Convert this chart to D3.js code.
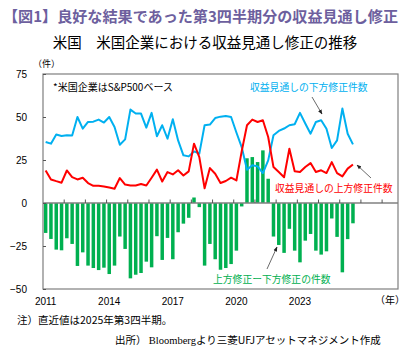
<!DOCTYPE html>
<html>
<head>
<meta charset="utf-8">
<script src="https://cdn.jsdelivr.net/npm/d3@7"></script>
<style>
    body { margin: 0; background: #fff; }
    svg { display: block; }
</style>
</head>
<body>
<div id="chart"></div>
<script>
// quarterly data, 2011Q1 .. 2025Q3
const startYear = 2011;
const axisQuarters = 67; // axis runs on to 2027Q3

const downRevisions = [
    35.5, 34.5, 39.8, 39, 39.4, 39.2, 50, 43.2, 47.1, 47.3,
    48.5, 46.8, 50, 44.2, 33.9, 37, 54.3, 52, 52, 43.8,
    52.4, 38.8, 45.2, 37.4, 48.7, 36.4, 27.7, 27.1, 30, 28.7,
    45.2, 45.6, 49.4, 50.2, 50.6, 50, 41, 32.5, 19.3, 21.9,
    21.3, 17.4, 24.8, 39.4, 41.9, 43.3, 45.2, 45.8, 52.4, 46.2,
    40.3, 47.1, 48.1, 43.2, 32, 36.4, 54.9, 40.3, 34.1
];

const upRevisions = [
    18.9, 13.7, 12.7, 11.8, 18.9, 15, 13.7, 14.7, 11.6, 10,
    10, 9.6, 9, 8.3, 14.5, 10.7, 10.2, 10.2, 11, 10.2,
    14.7, 19.4, 12.5, 18, 16.6, 19, 16, 18.4, 34.5, 26.7,
    8.6, 20.3, 17, 11.6, 12.8, 14.7, 13.1, 30, 45.2, 48.5,
    47.1, 48.1, 38.4, 20.9, 18, 15, 31.6, 18.5, 18, 20.9,
    23.2, 18, 19, 17.4, 23.8, 17.4, 15.5, 20, 22.4
];

const netRevisions = [
    -17.4, -20.9, -27.1, -27.5, -20.5, -23.8, -36.6, -28.7, -36.4, -37.8,
    -39, -37.6, -41.3, -36.4, -19.5, -26.7, -43.8, -41.7, -40.7, -34.1,
    -37.4, -19.3, -33.1, -20.3, -32.7, -17, -12, -8.6, 3.2, -2.4,
    -36.4, -23.8, -32.7, -38.8, -37.8, -35.5, -27.7, -2, 26, 26.7,
    23.8, 30.6, 14.1, -19.5, -24.4, -29, -15, -27.7, -34.5, -21.9,
    -18, -27.7, -30, -28.1, -9, -19.7, -40.3, -21, -11.8
];

const yTicks = [-50, -25, 0, 25, 50, 75];
const yearLabels = [2011, 2014, 2017, 2020, 2023];

const width = 408,
    height = 350,
    margin = {top: 74, right: 10, bottom: 61, left: 43};

const jp = '"Noto Sans CJK JP", "Noto Sans", sans-serif';

let quarters = [];
for (let i = 0; i < axisQuarters; i++) {
    quarters.push(`${startYear + Math.floor(i / 4)}Q${i % 4 + 1}`);
}

let svg = d3.select('#chart').append('svg')
    .attr('width', width)
    .attr('height', height);

let x = d3.scaleBand()
    .domain(quarters)
    .range([margin.left, width - margin.right])
    .paddingInner(0.34)
    .paddingOuter(0.17);

let y = d3.scaleLinear()
    .domain([-50, 75])
    .range([height - margin.bottom, margin.top]);

let cx = (i) => x(quarters[i]) + x.bandwidth() / 2;
let step = x.step();

// titles
svg.append('text')
    .attr('x', 3)
    .attr('y', 22)
    .attr('font-family', jp)
    .attr('font-size', 15)
    .attr('font-weight', 'bold')
    .attr('fill', '#6d5f9e')
    .attr('textLength', 395)
    .attr('lengthAdjust', 'spacingAndGlyphs')
    .text('【図1】良好な結果であった第3四半期分の収益見通し修正');

svg.append('text')
    .attr('x', 205)
    .attr('y', 48)
    .attr('text-anchor', 'middle')
    .attr('font-family', jp)
    .attr('font-size', 14.5)
    .attr('fill', '#000')
    .text('米国　米国企業における収益見通し修正の推移');

// bars
svg.append('g')
    .selectAll('rect')
    .data(netRevisions)
    .enter()
    .append('rect')
    .attr('x', (d, i) => x(quarters[i]))
    .attr('width', x.bandwidth())
    .attr('y', (d) => y(Math.max(0, d)))
    .attr('height', (d) => Math.abs(y(d) - y(0)))
    .attr('fill', '#00b050');

// zero line and year ticks
svg.append('line')
    .attr('x1', margin.left)
    .attr('x2', width - margin.right)
    .attr('y1', y(0))
    .attr('y2', y(0))
    .attr('stroke', '#808080')
    .attr('stroke-width', 1.5);

svg.append('g')
    .selectAll('line')
    .data(d3.range(4, axisQuarters, 4))
    .enter()
    .append('line')
    .attr('x1', (q) => x(quarters[q]) - step * x.paddingInner() / 2)
    .attr('x2', (q) => x(quarters[q]) - step * x.paddingInner() / 2)
    .attr('y1', y(0))
    .attr('y2', y(0) - 3.5)
    .attr('stroke', '#555')
    .attr('stroke-width', 1);

// lines
let line = d3.line()
    .x((d, i) => cx(i))
    .y((d) => y(d));

svg.append('path')
    .datum(downRevisions)
    .attr('d', line)
    .attr('fill', 'none')
    .attr('stroke', '#00b0f0')
    .attr('stroke-width', 2)
    .attr('stroke-linejoin', 'round');

svg.append('path')
    .datum(upRevisions)
    .attr('d', line)
    .attr('fill', 'none')
    .attr('stroke', '#ff0000')
    .attr('stroke-width', 2)
    .attr('stroke-linejoin', 'round');

// frame
svg.append('rect')
    .attr('x', margin.left)
    .attr('y', margin.top)
    .attr('width', width - margin.left - margin.right)
    .attr('height', height - margin.top - margin.bottom)
    .attr('fill', 'none')
    .attr('stroke', '#7f7f7f')
    .attr('stroke-width', 1.2);

// y axis
let yAxis = d3.axisLeft(y)
    .tickValues(yTicks)
    .tickSize(-3)
    .tickPadding(16);

let gy = svg.append('g')
    .attr('transform', `translate(${margin.left},0)`)
    .call(yAxis);

gy.select('.domain').remove();
gy.selectAll('line').attr('stroke', '#555');
gy.selectAll('text')
    .attr('font-family', '"Liberation Sans", Arial, sans-serif')
    .attr('font-size', 10)
    .attr('fill', '#000');

// x labels
svg.append('g')
    .selectAll('text')
    .data(yearLabels)
    .enter()
    .append('text')
    .attr('x', (yr) => cx((yr - startYear) * 4))
    .attr('y', 305)
    .attr('text-anchor', 'middle')
    .attr('font-family', '"Liberation Sans", Arial, sans-serif')
    .attr('font-size', 10)
    .attr('fill', '#000')
    .text((d) => d);

svg.append('text')
    .attr('x', 375)
    .attr('y', 304)
    .attr('font-family', jp)
    .attr('font-size', 10)
    .text('（年）');

svg.append('text')
    .attr('x', 33)
    .attr('y', 67)
    .attr('font-family', jp)
    .attr('font-size', 9)
    .text('（件）');

svg.append('text')
    .attr('x', 53)
    .attr('y', 91)
    .attr('font-family', jp)
    .attr('font-size', 10)
    .text('*米国企業はS&P500ベース');

// annotations
let defs = svg.append('defs');
defs.append('marker')
    .attr('id', 'arrow')
    .attr('viewBox', '0 0 10 10')
    .attr('refX', 9)
    .attr('refY', 5)
    .attr('markerWidth', 6)
    .attr('markerHeight', 6)
    .attr('orient', 'auto')
    .append('path')
    .attr('d', 'M0,1L10,5L0,9Z')
    .attr('fill', '#222');

let notes = [
    {text: '収益見通しの下方修正件数', x: 250, y: 91, color: '#00b0f0', a: [312, 97, 322, 114]},
    {text: '収益見通しの上方修正件数', x: 275, y: 192, color: '#ff0000', a: [371, 178, 357, 165]},
    {text: '上方修正ー下方修正の件数', x: 213, y: 283, color: '#00b050', a: [267, 269, 277, 247]}
];

notes.forEach((n) => {
    svg.append('text')
        .attr('x', n.x)
        .attr('y', n.y)
        .attr('font-family', jp)
        .attr('font-size', 9.8)
        .attr('fill', n.color)
        .text(n.text);

    svg.append('line')
        .attr('x1', n.a[0])
        .attr('y1', n.a[1])
        .attr('x2', n.a[2])
        .attr('y2', n.a[3])
        .attr('stroke', '#444')
        .attr('stroke-width', 0.8)
        .attr('marker-end', 'url(#arrow)');
});

// footnotes
svg.append('text')
    .attr('x', 17)
    .attr('y', 324)
    .attr('font-family', jp)
    .attr('font-size', 10.5)
    .text('注）直近値は2025年第3四半期。');

let src = svg.append('text')
    .attr('x', 115)
    .attr('y', 344)
    .attr('font-family', jp)
    .attr('font-size', 10.5);
src.append('tspan').text('出所） ');
src.append('tspan')
    .attr('font-family', '"Liberation Serif", serif')
    .text('Bloomberg');
src.append('tspan').text('より三菱UFJアセットマネジメント作成');
</script>
</body>
</html>
